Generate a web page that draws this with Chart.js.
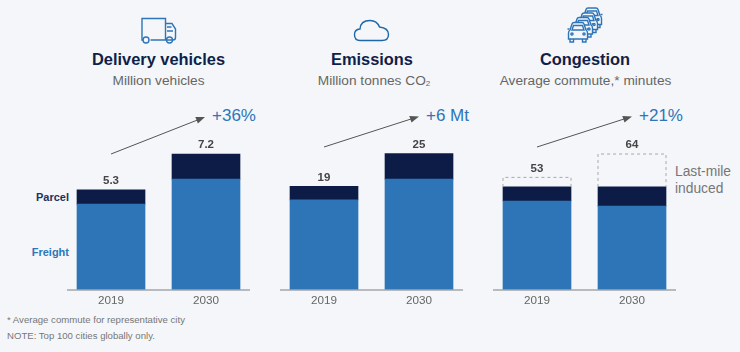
<!DOCTYPE html>
<html>
<head>
<meta charset="utf-8">
<title>Last-mile delivery</title>
<script src="https://cdn.jsdelivr.net/npm/chart.js@4"></script>
<style>
  html, body { margin: 0; padding: 0; }
  body { width: 740px; height: 352px; background: #f4f6f9; position: relative; overflow: hidden; font-family: "Liberation Sans", Arial, sans-serif; }
  canvas { position: absolute; top: 130px; }
  svg.overlay { position: absolute; left: 0; top: 0; }
  .t { position: absolute; white-space: nowrap; line-height: 1; }
  .c { transform: translateX(-50%); }
  .title { top: 51px; font-size: 16.4px; font-weight: bold; color: #0f1f4b; }
  .sub { top: 74px; font-size: 13.7px; color: #666; }
  .sub sub { font-size: 8px; vertical-align: -1px; line-height: 0; }
  .delta { top: 107px; font-size: 17px; color: #2e75b8; }
  .side { left: 0; width: 69px; text-align: right; font-size: 11px; font-weight: bold; }
  .note { left: 7px; font-size: 9.6px; color: #777; }
  .lm { left: 675px; font-size: 13.8px; color: #777; }
</style>
</head>
<body>
<svg class="overlay" width="740" height="352" fill="none" stroke="#2e75b8" stroke-width="1.4">
  <defs>
    <g id="car">
      <path d="M3 9 L5 3 Q5.5 1.5 7 1.5 H15 Q16.5 1.5 17 3 L19 9 Q20.5 10 20.5 12 V18 H1.5 V12 Q1.5 10 3 9 Z" fill="#f4f6f9"/>
      <path d="M5 9 L6.5 4.5 H15.5 L17 9 Z"/>
      <path d="M3 18 V21 H6.5 V18 M15.5 18 V21 H19 V18"/>
      <circle cx="5" cy="13" r="1.1"/><circle cx="17" cy="13" r="1.1"/>
      <path d="M0.5 8 H2.5 M19.5 8 H21.5"/>
    </g>
  </defs>
  <!-- truck -->
  <path d="M143.5 40 H142 V18.5 H165.5 V40 H173 Q175.5 40 175.5 37.5 V29 L172 23.5 H165.5 M150.5 40 H165.5"/>
  <circle cx="146" cy="40" r="3"/><circle cx="169.5" cy="40" r="3"/>
  <path d="M167 27 H171.5 M167 31 H173"/>
  <!-- cloud -->
  <path d="M360 40.5 Q354.5 40.5 354.5 34.5 Q354.5 29.5 360 29 Q360.5 20.5 370 20.5 Q377 20.5 379.5 27 Q388.5 28 388.5 34.5 Q388.5 40.5 382 40.5 Z" stroke="#1f68a8"/>
  <!-- cars -->
  <use href="#car" transform="translate(581 6.5)"/>
  <use href="#car" transform="translate(577 11.5)"/>
  <use href="#car" transform="translate(572 16)"/>
  <use href="#car" transform="translate(567 21)"/>
  <!-- growth arrows -->
  <g stroke="#555" stroke-width="1">
    <line x1="111" y1="154" x2="198" y2="119.8"/>
    <line x1="324" y1="147" x2="411" y2="119"/>
    <line x1="537" y1="147" x2="624" y2="119"/>
  </g>
  <g fill="#555" stroke="none">
    <polygon points="205,117 197.9,123.6 195.3,117"/>
    <polygon points="419,116.5 411.5,122.6 409.3,115.9"/>
    <polygon points="632,116.5 624.5,122.6 622.3,115.9"/>
  </g>
</svg>

<div class="t c title" style="left:158.5px">Delivery vehicles</div>
<div class="t c sub" style="left:158.5px">Million vehicles</div>
<div class="t delta" style="left:212px">+36%</div>

<div class="t c title" style="left:372px">Emissions</div>
<div class="t c sub" style="left:374px">Million tonnes CO<sub>2</sub></div>
<div class="t delta" style="left:426px">+6 Mt</div>

<div class="t c title" style="left:585px">Congestion</div>
<div class="t c sub" style="left:585.5px">Average commute,* minutes</div>
<div class="t delta" style="left:639px">+21%</div>

<div class="t side" style="top:192px;color:#22305c">Parcel</div>
<div class="t side" style="top:247px;color:#2e75b8">Freight</div>
<div class="t lm" style="top:165px">Last-mile</div>
<div class="t lm" style="top:182px">induced</div>
<div class="t note" style="top:315px">* Average commute for representative city</div>
<div class="t note" style="top:331px">NOTE: Top 100 cities globally only.</div>

<canvas id="vehicles" width="200" height="185" style="left:60px"></canvas>
<canvas id="emissions" width="200" height="185" style="left:273px"></canvas>
<canvas id="congestion" width="200" height="185" style="left:486px"></canvas>

<script>
const years = ['2019', '2030'];

const vehicleFreight = [4.55, 5.87];
const vehicleParcel = [0.75, 1.33];
const vehicleTotals = ['5.3', '7.2'];

const emissionFreight = [16.5, 20.3];
const emissionParcel = [2.5, 4.7];
const emissionTotals = ['19', '25'];

const commuteFreight = [41.9, 39.5];
const commuteParcel = [6.6, 9];
const commuteInduced = [4.5, 15.5];
const commuteTotals = ['53', '64'];

const BLUE = '#2e75b8';
const NAVY = '#0c1c47';
const GREY = '#666';

// dashed outline for the last-mile segment, totals above the stack, inset axis line
const panelExtras = {
  id: 'panelExtras',
  afterDatasetsDraw(chart, args, opts) {
    const ctx = chart.ctx;
    const area = chart.chartArea;
    const base = chart.scales.y.getPixelForValue(0);

    ctx.save();
    ctx.strokeStyle = '#a3a6aa';
    ctx.lineWidth = 1.5;
    ctx.beginPath();
    ctx.moveTo(area.left + 3.5, base);
    ctx.lineTo(area.right - 3.5, base);
    ctx.stroke();

    const last = chart.getDatasetMeta(chart.data.datasets.length - 1);
    if (opts.dashed) {
      ctx.strokeStyle = '#a8a8a8';
      ctx.lineWidth = 1;
      ctx.setLineDash([3, 3]);
      last.data.forEach(bar => {
        const left = bar.x - bar.width / 2;
        ctx.beginPath();
        ctx.moveTo(left, bar.base);
        ctx.lineTo(left, bar.y);
        ctx.lineTo(left + bar.width, bar.y);
        ctx.lineTo(left + bar.width, bar.base);
        ctx.stroke();
      });
      ctx.setLineDash([]);
    }

    ctx.fillStyle = '#444';
    ctx.font = 'bold 11.5px "Liberation Sans", Arial, sans-serif';
    ctx.textAlign = 'center';
    ctx.textBaseline = 'bottom';
    last.data.forEach((bar, i) => ctx.fillText(opts.totals[i], bar.x, bar.y - 3));
    ctx.restore();
  }
};

function drawPanel(id, freight, parcel, totals, yMax, induced) {
  const datasets = [
    { label: 'Freight', data: freight, backgroundColor: BLUE },
    { label: 'Parcel', data: parcel, backgroundColor: NAVY }
  ];
  if (induced) {
    datasets.push({ label: 'Last-mile induced', data: induced, backgroundColor: 'rgba(0,0,0,0)' });
  }
  return new Chart(document.getElementById(id), {
    type: 'bar',
    data: { labels: years, datasets: datasets },
    plugins: [panelExtras],
    options: {
      responsive: false,
      animation: false,
      barThickness: 68,
      layout: { padding: { left: 3.5, right: 6.5, top: 0, bottom: 0 } },
      plugins: {
        legend: { display: false },
        tooltip: { enabled: false },
        panelExtras: { totals: totals, dashed: !!induced }
      },
      scales: {
        x: {
          stacked: true,
          grid: { display: false, drawTicks: false },
          border: { display: false },
          ticks: {
            color: GREY,
            padding: 4,
            maxRotation: 0,
            font: { family: '"Liberation Sans", Arial, sans-serif', size: 11.7 }
          },
          afterFit(scale) { scale.height = 25; }
        },
        y: { stacked: true, display: false, min: 0, max: yMax }
      }
    }
  });
}

drawPanel('vehicles', vehicleFreight, vehicleParcel, vehicleTotals, 8.47);
drawPanel('emissions', emissionFreight, emissionParcel, emissionTotals, 29.3);
drawPanel('congestion', commuteFreight, commuteParcel, commuteTotals, 75.3, commuteInduced);
</script>
</body>
</html>
